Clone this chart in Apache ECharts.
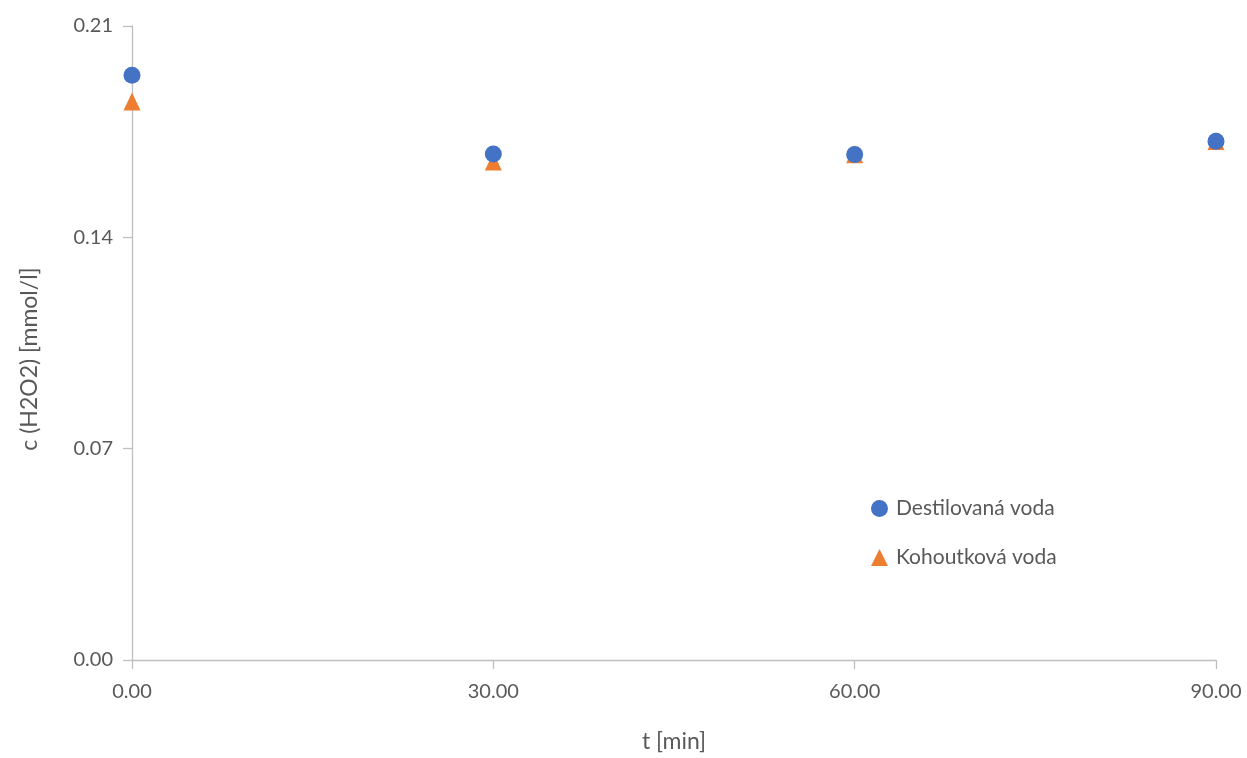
<!DOCTYPE html>
<html>
<head>
<meta charset="utf-8">
<script src="https://cdn.jsdelivr.net/npm/echarts@6/dist/echarts.min.js"></script>
<style>
  html, body { margin: 0; padding: 0; background: #ffffff; overflow: hidden; }
  #chart { width: 1247px; height: 758px; }
</style>
</head>
<body>
<div id="chart"></div>
<script>
// Sampling times [min]
const times = [0, 30, 60, 90];
// H2O2 concentration [mmol/l]
const destilovana = [0.1937, 0.1676, 0.1674, 0.1718];
const kohoutkova = [0.1850, 0.1651, 0.1675, 0.1719];
const seriesNames = ['Destilovaná voda', 'Kohoutková voda'];

const textColor = '#595959';
const axisColor = '#bfbfbf';
const fontFamily = 'Lato, "Open Sans", "Liberation Sans", sans-serif';

const toPairs = (xs, ys) => xs.map((x, i) => [x, ys[i]]);

const chart = echarts.init(document.getElementById('chart'), null, { renderer: 'canvas' });
chart.setOption({
  animation: false,
  backgroundColor: '#ffffff',
  textStyle: { fontFamily: fontFamily, color: textColor },
  grid: { left: 132, right: 31, top: 26, bottom: 93, containLabel: false },
  legend: {
    orient: 'vertical',
    left: 866,
    top: 491,
    itemGap: 24,
    itemWidth: 17,
    itemHeight: 17,
    itemStyle: { borderWidth: 0 },
    textStyle: { fontSize: 21, lineHeight: 25, color: textColor, fontFamily: fontFamily, padding: [0, 0, 0, 3] },
    data: [
      { name: seriesNames[0], icon: 'circle' },
      { name: seriesNames[1], icon: 'triangle' }
    ]
  },
  xAxis: {
    type: 'value',
    min: 0,
    max: 90,
    interval: 30,
    name: 't [min]',
    nameLocation: 'middle',
    nameGap: 70,
    nameTextStyle: { fontSize: 23, color: textColor, fontFamily: fontFamily },
    axisLine: { show: true, onZero: false, lineStyle: { color: axisColor, width: 1.3 } },
    axisTick: { show: true, length: 9, lineStyle: { color: axisColor, width: 1.3 } },
    axisLabel: {
      fontSize: 20, color: textColor, margin: 22,
      formatter: v => v.toFixed(2)
    },
    splitLine: { show: false }
  },
  yAxis: {
    type: 'value',
    min: 0,
    max: 0.21,
    interval: 0.07,
    name: 'c (H2O2) [mmol/l]',
    nameLocation: 'middle',
    nameGap: 91,
    nameTextStyle: { fontSize: 23, color: textColor, fontFamily: fontFamily, padding: [0, 32, 0, 0] },
    axisLine: { show: true, onZero: false, lineStyle: { color: axisColor, width: 1.3 } },
    axisTick: { show: true, length: 9, lineStyle: { color: axisColor, width: 1.3 } },
    axisLabel: {
      fontSize: 20, color: textColor, margin: 19,
      formatter: v => v.toFixed(2)
    },
    splitLine: { show: false }
  },
  series: [
    {
      name: seriesNames[1],
      type: 'scatter',
      symbol: 'triangle',
      symbolSize: [17, 18],
      itemStyle: { color: '#ED7D31', opacity: 1 },
      data: toPairs(times, kohoutkova),
      z: 2
    },
    {
      name: seriesNames[0],
      type: 'scatter',
      symbol: 'circle',
      symbolSize: 17,
      itemStyle: { color: '#4472C4', opacity: 1 },
      data: toPairs(times, destilovana),
      z: 3
    }
  ]
});
</script>
</body>
</html>
